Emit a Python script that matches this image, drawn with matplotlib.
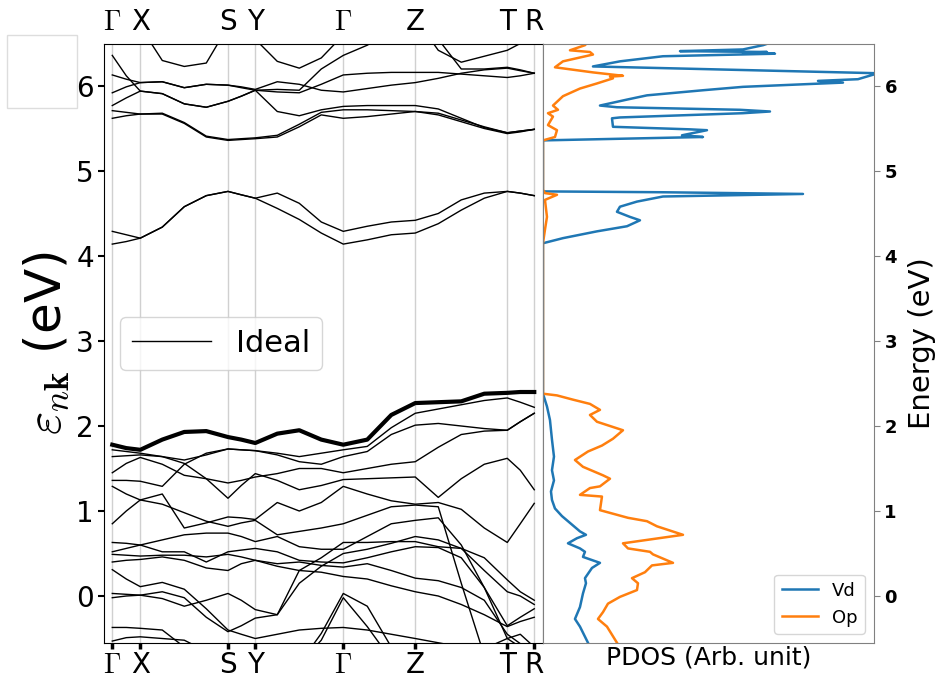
import matplotlib
matplotlib.use('Agg')
import matplotlib.pyplot as plt
from matplotlib.patches import Rectangle

plt.rcParams['mathtext.fontset'] = 'cm'

# k-path (path length) where the band energies are sampled
kpath = [0.0, 0.14, 0.28, 0.50, 0.72, 0.94, 1.157, 1.29, 1.43, 1.65, 1.87,
         2.09, 2.31, 2.55, 2.79, 3.03, 3.26, 3.49, 3.72, 3.95, 4.08, 4.22]
sym_k = [0.0, 0.28, 1.157, 1.43, 2.31, 3.03, 3.95, 4.22]
sym_labels = [r'$\Gamma$', 'X', 'S', 'Y', r'$\Gamma$', 'Z', 'T', 'R']

# valence band maximum (drawn thick)
vbm = [1.78, 1.74, 1.72, 1.84, 1.93, 1.94, 1.87, 1.84, 1.80, 1.91, 1.95,
       1.84, 1.78, 1.84, 2.13, 2.27, 2.28, 2.29, 2.38, 2.39, 2.40, 2.40]

valence = [
    [1.72, 1.70, 1.68, 1.64, 1.60, 1.66, 1.73, 1.72, 1.71, 1.68, 1.64, 1.68, 1.72, 1.76, 1.98, 2.15, 2.20, 2.25, 2.30, 2.33, 2.28, 2.22],
    [1.64, 1.65, 1.66, 1.64, 1.56, 1.38, 1.15, 1.30, 1.44, 1.36, 1.25, 1.30, 1.37, 1.38, 1.39, 1.40, 1.16, 1.38, 1.55, 1.62, 1.48, 1.25],
    [1.36, 1.36, 1.35, 1.29, 1.55, 1.68, 1.73, 1.72, 1.71, 1.66, 1.58, 1.55, 1.64, 1.70, 1.90, 2.01, 2.03, 2.00, 1.97, 1.95, 2.05, 2.15],
    [1.45, 1.56, 1.63, 1.55, 1.42, 1.38, 1.33, 1.36, 1.40, 1.44, 1.50, 1.50, 1.45, 1.50, 1.55, 1.58, 1.75, 1.90, 1.94, 1.95, 2.05, 2.15],
    [1.29, 1.20, 1.13, 1.20, 0.80, 0.86, 0.93, 0.92, 0.90, 1.10, 1.00, 1.10, 1.29, 1.20, 1.12, 1.08, 1.10, 1.02, 0.80, 0.63, 0.85, 1.09],
    [0.85, 1.00, 1.13, 1.08, 0.98, 0.88, 0.82, 0.86, 0.89, 0.72, 0.76, 0.80, 0.85, 0.95, 1.05, 1.07, 1.05, 0.15, -0.70, -0.90, -0.90, -0.90],
    [0.63, 0.62, 0.60, 0.66, 0.72, 0.74, 0.74, 0.70, 0.64, 0.70, 0.58, 0.55, 0.55, 0.70, 0.85, 0.89, 0.92, 0.60, 0.10, -0.35, -0.25, -0.15],
    [0.52, 0.56, 0.60, 0.52, 0.52, 0.40, 0.52, 0.54, 0.56, 0.52, 0.42, 0.40, 0.39, 0.45, 0.52, 0.58, 0.57, 0.45, 0.10, -0.50, -0.45, -0.60],
    [0.49, 0.48, 0.47, 0.48, 0.48, 0.46, 0.49, 0.46, 0.42, 0.35, 0.30, 0.28, 0.23, 0.20, 0.12, 0.05, 0.00, -0.10, -0.22, -0.36, -0.30, -0.25],
    [0.40, 0.42, 0.43, 0.46, 0.42, 0.33, 0.30, 0.38, 0.42, 0.38, 0.40, 0.36, 0.34, 0.38, 0.30, 0.21, 0.18, 0.10, -0.05, -0.45, -0.56, -0.65],
    [0.31, 0.20, 0.11, 0.16, 0.08, -0.15, -0.40, -0.45, -0.50, -0.45, -0.40, -0.38, -0.37, -0.40, -0.45, -0.50, -0.55, -0.60, -0.65, -0.70, -0.70, -0.70],
    [0.03, 0.02, 0.01, -0.03, -0.12, -0.05, 0.03, -0.05, -0.16, -0.22, 0.30, 0.45, 0.63, 0.63, 0.64, 0.64, 0.58, 0.56, 0.45, 0.19, 0.05, -0.05],
    [-0.02, 0.00, 0.01, 0.05, -0.02, -0.25, -0.42, -0.35, -0.26, -0.22, 0.15, 0.35, 0.50, 0.55, 0.62, 0.70, 0.66, 0.56, 0.30, 0.05, 0.00, -0.10],
    [-0.37, -0.37, -0.38, -0.40, -0.60, -0.80, -0.80, -0.80, -0.80, -0.80, -0.80, -0.44, 0.03, -0.12, -0.60, -0.80, -0.80, -0.80, -0.80, -0.80, -0.80, -0.80],
    [-0.53, -0.49, -0.48, -0.50, -0.52, -0.65, -0.80, -0.80, -0.80, -0.80, -0.80, -0.52, -0.02, -0.36, -0.75, -0.80, -0.80, -0.80, -0.62, -0.50, -0.60, -0.80],
]

conduction = [
    [4.14, 4.17, 4.21, 4.34, 4.58, 4.71, 4.76, 4.72, 4.68, 4.56, 4.43, 4.27, 4.14, 4.19, 4.25, 4.27, 4.38, 4.54, 4.68, 4.76, 4.74, 4.71],
    [4.29, 4.25, 4.21, 4.34, 4.58, 4.71, 4.76, 4.72, 4.68, 4.74, 4.62, 4.40, 4.29, 4.35, 4.40, 4.42, 4.50, 4.66, 4.74, 4.76, 4.74, 4.71],
    [5.62, 5.65, 5.67, 5.67, 5.56, 5.40, 5.36, 5.37, 5.38, 5.40, 5.52, 5.66, 5.62, 5.64, 5.67, 5.70, 5.66, 5.58, 5.50, 5.44, 5.46, 5.49],
    [5.71, 5.69, 5.67, 5.68, 5.57, 5.41, 5.37, 5.38, 5.39, 5.42, 5.55, 5.69, 5.72, 5.72, 5.71, 5.70, 5.68, 5.60, 5.52, 5.45, 5.47, 5.49],
    [5.77, 5.86, 5.94, 5.91, 5.79, 5.75, 5.82, 5.88, 5.95, 5.70, 5.65, 5.72, 5.76, 5.77, 5.77, 5.77, 5.73, 5.62, 5.51, 5.45, 5.47, 5.49],
    [5.92, 5.99, 6.04, 6.05, 5.98, 6.02, 6.01, 5.98, 5.95, 5.93, 5.92, 6.02, 6.13, 6.15, 6.16, 6.16, 6.16, 6.14, 6.12, 6.10, 6.12, 6.15],
    [6.13, 6.08, 6.04, 6.05, 5.98, 6.02, 6.01, 5.99, 5.96, 6.05, 6.02, 5.95, 5.93, 5.97, 6.01, 6.04, 6.09, 6.15, 6.19, 6.21, 6.18, 6.15],
    [6.36, 6.12, 5.94, 5.91, 5.79, 5.75, 5.82, 5.88, 5.95, 5.96, 5.95, 6.20, 6.36, 6.48, 6.65, 6.80, 6.42, 6.28, 6.35, 6.42, 6.50, 6.60],
    [6.80, 6.80, 6.70, 6.30, 6.23, 6.27, 6.70, 6.65, 6.55, 6.29, 6.21, 6.33, 6.60, 6.80, 6.80, 6.80, 6.55, 6.20, 6.20, 6.22, 6.19, 6.15],
]

# projected DOS (energy, weight)
vd_e = [-0.55, -0.36, -0.27, -0.13, 0.03, 0.15, 0.21, 0.33, 0.39, 0.46, 0.52, 0.56, 0.62, 0.68, 0.72, 0.76,
        0.86, 0.94, 1.03, 1.13, 1.23, 1.36, 1.48, 1.64, 1.84, 2.07, 2.23, 2.38, 4.15, 4.21, 4.29, 4.35,
        4.42, 4.46, 4.52, 4.58, 4.64, 4.70, 4.73, 4.75, 4.76, 5.36, 5.40, 5.42, 5.48, 5.49, 5.52, 5.62,
        5.63, 5.68, 5.70, 5.72, 5.75, 5.77, 5.84, 5.89, 5.95, 5.99, 6.04, 6.06, 6.08, 6.15, 6.23, 6.29,
        6.35, 6.38, 6.39, 6.40, 6.41, 6.43, 6.48, 6.52]
vd_w = [0.45, 0.37, 0.32, 0.37, 0.40, 0.43, 0.42, 0.49, 0.57, 0.40, 0.42, 0.37, 0.25, 0.34, 0.43, 0.37,
        0.27, 0.19, 0.12, 0.09, 0.08, 0.11, 0.09, 0.11, 0.09, 0.07, 0.04, 0.0, 0.0, 0.20, 0.54, 0.84,
        0.97, 0.87, 0.74, 0.77, 0.94, 1.20, 2.60, 1.20, 0.0, 0.0, 1.60, 1.39, 1.64, 1.47, 0.70, 0.69,
        0.77, 2.00, 2.27, 1.97, 0.74, 0.57, 0.84, 1.04, 1.60, 2.00, 3.00, 2.75, 3.15, 3.35, 0.50, 0.77,
        1.20, 2.32, 2.00, 2.24, 1.37, 2.00, 2.20, 2.30]
op_e = [-0.55, -0.36, -0.27, -0.19, -0.09, -0.01, 0.07, 0.15, 0.21, 0.28, 0.36, 0.39, 0.49, 0.52, 0.56, 0.62,
        0.66, 0.72, 0.82, 0.88, 0.92, 1.01, 1.17, 1.19, 1.27, 1.29, 1.38, 1.42, 1.52, 1.60, 1.70, 1.77,
        1.85, 1.95, 2.05, 2.13, 2.19, 2.26, 2.31, 2.36, 2.38, 4.15, 4.31, 4.46, 4.66, 4.72, 4.74, 4.78,
        5.36, 5.40, 5.48, 5.54, 5.64, 5.68, 5.72, 5.77, 5.88, 5.97, 6.03, 6.09, 6.11, 6.12, 6.16, 6.22,
        6.29, 6.37, 6.40, 6.42, 6.48, 6.52]
op_w = [0.74, 0.64, 0.55, 0.60, 0.65, 0.77, 0.94, 0.95, 0.89, 1.02, 1.09, 1.30, 1.10, 1.07, 0.85, 0.80,
        1.04, 1.40, 1.14, 1.04, 0.85, 0.57, 0.59, 0.37, 0.47, 0.57, 0.67, 0.60, 0.40, 0.32, 0.45, 0.59,
        0.70, 0.80, 0.54, 0.47, 0.57, 0.47, 0.30, 0.14, 0.0, 0.0, 0.02, 0.04, 0.02, 0.14, 0.02, 0.0,
        0.0, 0.12, 0.14, 0.05, 0.10, 0.05, 0.15, 0.10, 0.20, 0.37, 0.54, 0.70, 0.67, 0.80, 0.50, 0.12,
        0.20, 0.50, 0.47, 0.27, 0.42, 0.45]

emin, emax = -0.553, 6.494

fig = plt.figure(figsize=(9.42, 6.77), dpi=100)
ax = fig.add_axes([0.1107, 0.0502, 0.4657, 0.8848])
ax2 = fig.add_axes([0.5764, 0.0502, 0.3514, 0.8848])

# band structure
for kx in sym_k:
    ax.axvline(kx, color='#d0d0d0', lw=1, zorder=0)
for i, band in enumerate(valence + conduction):
    ax.plot(kpath, band, color='black', lw=1, label='Ideal' if i == 0 else None)
ax.plot(kpath, vbm, color='black', lw=3)

ax.set_xlim(-0.08, 4.307)
ax.set_ylim(emin, emax)
ax.set_xticks(sym_k)
ax.set_xticklabels(sym_labels)
ax.tick_params(axis='x', labelsize=20, length=4, width=2.5, pad=1.5,
               top=False, labeltop=True)
ax.tick_params(axis='y', labelsize=20, length=4, width=1.5)
ax.set_ylabel(r'$\varepsilon_{n\mathbf{k}}$ (eV)', fontsize=36)
ax.legend(loc='center left', fontsize=22, handlelength=2.6)

# PDOS
ax2.plot(vd_w, vd_e, color='tab:blue', lw=1.8, label='Vd')
ax2.plot(op_w, op_e, color='tab:orange', lw=1.8, label='Op')
ax2.set_xlim(0, 3.31)
ax2.set_ylim(emin, emax)
ax2.set_xticks([])
ax2.yaxis.tick_right()
ax2.yaxis.set_label_position('right')
ax2.tick_params(axis='y', labelsize=13, color='grey', length=4)
for lab in ax2.get_yticklabels():
    lab.set_fontweight('bold')
for sp in ax2.spines.values():
    sp.set_color('grey')
ax2.set_xlabel('PDOS (Arb. unit)', fontsize=18, labelpad=2)
ax2.set_ylabel('Energy (eV)', fontsize=21, labelpad=8)
ax2.legend(loc='lower right', fontsize=13)

fig.patches.append(Rectangle((0.0074, 0.8405), 0.0743, 0.108, transform=fig.transFigure,
                             fill=False, edgecolor='#dddddd', lw=1))

plt.savefig('out.png', dpi=100)
